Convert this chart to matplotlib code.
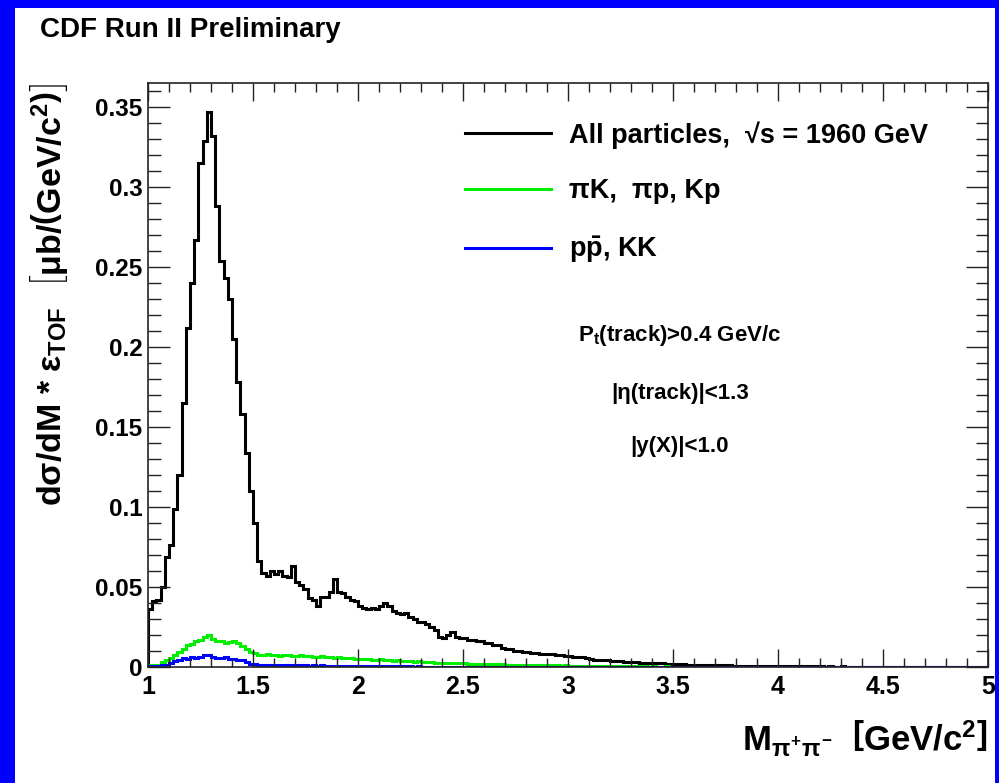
# CDF Run II exclusive pi+pi- mass spectrum, redrawn with matplotlib

import numpy as np
import matplotlib
matplotlib.use('Agg')
import matplotlib.pyplot as plt
from matplotlib.ticker import MultipleLocator, FuncFormatter
from matplotlib.patches import Rectangle

# Histogram contents, 0.02 GeV/c^2 bins from 1.0 to 5.0

all_particles = [
    0.036, 0.041, 0.042, 0.050, 0.069, 0.076, 0.099, 0.120, 0.165, 0.212,
    0.240, 0.267, 0.315, 0.329, 0.347, 0.332, 0.288, 0.254, 0.243, 0.230,
    0.205, 0.178, 0.158, 0.134, 0.110, 0.090, 0.066, 0.059, 0.057, 0.060,
    0.058, 0.060, 0.057, 0.056, 0.063, 0.053, 0.051, 0.049, 0.043, 0.042,
    0.038, 0.044, 0.044, 0.047, 0.055, 0.047, 0.046, 0.044, 0.042, 0.041,
    0.038, 0.037, 0.036, 0.037, 0.036, 0.038, 0.040, 0.038, 0.035, 0.034,
    0.033, 0.034, 0.031, 0.030, 0.028, 0.028, 0.027, 0.025, 0.023, 0.019,
    0.018, 0.020, 0.022, 0.019, 0.018, 0.018, 0.017, 0.017, 0.016, 0.016,
    0.015, 0.015, 0.014, 0.014, 0.012, 0.011, 0.011, 0.010, 0.0098, 0.0095,
    0.0092, 0.0088, 0.0086, 0.0084, 0.0082, 0.0080, 0.0079, 0.0078, 0.0076, 0.0070,
    0.0066, 0.0064, 0.0062, 0.0060, 0.0056, 0.0048, 0.0046, 0.0045, 0.0044, 0.0042,
    0.0040, 0.0038, 0.0036, 0.0032, 0.0031, 0.0030, 0.0029, 0.0028, 0.0027, 0.0026,
    0.0025, 0.0024, 0.0022, 0.0020, 0.0019, 0.0018, 0.0017, 0.0016, 0.0015, 0.0014,
    0.0013, 0.0014, 0.0012, 0.0012, 0.0011, 0.0012, 0.0010, 0.0010, 0.0011, 0.0009,
    0.0009, 0.0008, 0.0009, 0.0008, 0.0007, 0.0008, 0.0007, 0.0007, 0.0006, 0.0007,
    0.0006, 0.0006, 0.0005, 0.0006, 0.0005, 0.0005, 0.0004, 0.0005, 0.0004, 0.0004,
    0.0004, 0.0003, 0.0004, 0.0003, 0.0003, 0.0004, 0.0003, 0.0002, 0.0003, 0.0002,
    0.0002, 0.0003, 0.0002, 0.0002, 0.0002, 0.0001, 0.0002, 0.0001, 0.0002, 0.0001,
    0.0001, 0.0001, 0.0002, 0.0001, 0.0001, 0.0000, 0.0001, 0.0001, 0.0000, 0.0001,
    0.0000, 0.0001, 0.0000, 0.0000, 0.0001, 0.0000, 0.0000, 0.0001, 0.0000, 0.0000,
]

pik_pip_kp = [
    0.0012, 0.0013, 0.0015, 0.0030, 0.0042, 0.0055, 0.0072, 0.0095, 0.0110, 0.0135,
    0.0145, 0.0165, 0.0170, 0.0190, 0.0200, 0.0175, 0.0160, 0.0165, 0.0150, 0.0158,
    0.0162, 0.0150, 0.0130, 0.0110, 0.0095, 0.0085, 0.0078, 0.0075, 0.0080, 0.0072,
    0.0075, 0.0070, 0.0078, 0.0073, 0.0070, 0.0068, 0.0072, 0.0066, 0.0068, 0.0064,
    0.0062, 0.0066, 0.0060, 0.0063, 0.0058, 0.0060, 0.0057, 0.0055, 0.0058, 0.0050,
    0.0052, 0.0048, 0.0050, 0.0046, 0.0045, 0.0047, 0.0042, 0.0044, 0.0040, 0.0041,
    0.0038, 0.0037, 0.0039, 0.0034, 0.0035, 0.0031, 0.0030, 0.0032, 0.0028, 0.0027,
    0.0026, 0.0027, 0.0024, 0.0025, 0.0022, 0.0023, 0.0021, 0.0020, 0.0021, 0.0019,
    0.0018, 0.0019, 0.0017, 0.0016, 0.0017, 0.0015, 0.0015, 0.0014, 0.0015, 0.0013,
    0.0013, 0.0012, 0.0013, 0.0011, 0.0012, 0.0010, 0.0011, 0.0010, 0.0009, 0.0010,
    0.0009, 0.0008, 0.0009, 0.0008, 0.0007, 0.0008, 0.0007, 0.0006, 0.0007, 0.0006,
    0.0006, 0.0005, 0.0006, 0.0005, 0.0005, 0.0004, 0.0005, 0.0004, 0.0004, 0.0003,
    0.0004, 0.0003, 0.0003, 0.0004, 0.0003, 0.0002, 0.0003, 0.0002, 0.0002, 0.0003,
    0.0002, 0.0002, 0.0001, 0.0002, 0.0002, 0.0001, 0.0001, 0.0002, 0.0001, 0.0001,
    0.0001, 0.0001, 0.0001, 0.0000, 0.0001, 0.0001, 0.0000, 0.0001, 0.0000, 0.0001,
    0.0000, 0.0001, 0.0000, 0.0000, 0.0001, 0.0000, 0.0000, 0.0000, 0.0001, 0.0000,
    0.0000, 0.0000, 0.0000, 0.0001, 0.0000, 0.0000, 0.0000, 0.0000, 0.0000, 0.0000,
    0.0000, 0.0000, 0.0000, 0.0000, 0.0000, 0.0000, 0.0000, 0.0000, 0.0000, 0.0000,
    0.0000, 0.0000, 0.0000, 0.0000, 0.0000, 0.0000, 0.0000, 0.0000, 0.0000, 0.0000,
    0.0000, 0.0000, 0.0000, 0.0000, 0.0000, 0.0000, 0.0000, 0.0000, 0.0000, 0.0000,
]

ppbar_kk = [
    0.0006, 0.0007, 0.0008, 0.0010, 0.0015, 0.0022, 0.0035, 0.0045, 0.0058, 0.0050,
    0.0062, 0.0058, 0.0065, 0.0078, 0.0072, 0.0060, 0.0055, 0.0058, 0.0060, 0.0052,
    0.0048, 0.0042, 0.0045, 0.0030, 0.0020, 0.0018, 0.0014, 0.0015, 0.0013, 0.0014,
    0.0012, 0.0013, 0.0012, 0.0011, 0.0012, 0.0010, 0.0011, 0.0010, 0.0009, 0.0010,
    0.0009, 0.0010, 0.0009, 0.0008, 0.0009, 0.0008, 0.0008, 0.0007, 0.0008, 0.0007,
    0.0007, 0.0006, 0.0007, 0.0006, 0.0006, 0.0005, 0.0006, 0.0005, 0.0005, 0.0004,
    0.0005, 0.0004, 0.0004, 0.0003, 0.0004, 0.0003, 0.0003, 0.0003, 0.0002, 0.0003,
    0.0002, 0.0002, 0.0003, 0.0002, 0.0002, 0.0001, 0.0002, 0.0001, 0.0001, 0.0002,
    0.0001, 0.0001, 0.0001, 0.0000, 0.0001, 0.0001, 0.0000, 0.0001, 0.0000, 0.0000,
    0.0001, 0.0000, 0.0000, 0.0000, 0.0001, 0.0000, 0.0000, 0.0000, 0.0000, 0.0000,
    0.0000, 0.0000, 0.0000, 0.0000, 0.0000, 0.0000, 0.0000, 0.0000, 0.0000, 0.0000,
    0.0000, 0.0000, 0.0000, 0.0000, 0.0000, 0.0000, 0.0000, 0.0000, 0.0000, 0.0000,
    0.0000, 0.0000, 0.0000, 0.0000, 0.0000, 0.0000, 0.0000, 0.0000, 0.0000, 0.0000,
    0.0000, 0.0000, 0.0000, 0.0000, 0.0000, 0.0000, 0.0000, 0.0000, 0.0000, 0.0000,
    0.0000, 0.0000, 0.0000, 0.0000, 0.0000, 0.0000, 0.0000, 0.0000, 0.0000, 0.0000,
    0.0000, 0.0000, 0.0000, 0.0000, 0.0000, 0.0000, 0.0000, 0.0000, 0.0000, 0.0000,
    0.0000, 0.0000, 0.0000, 0.0000, 0.0000, 0.0000, 0.0000, 0.0000, 0.0000, 0.0000,
    0.0000, 0.0000, 0.0000, 0.0000, 0.0000, 0.0000, 0.0000, 0.0000, 0.0000, 0.0000,
    0.0000, 0.0000, 0.0000, 0.0000, 0.0000, 0.0000, 0.0000, 0.0000, 0.0000, 0.0000,
    0.0000, 0.0000, 0.0000, 0.0000, 0.0000, 0.0000, 0.0000, 0.0000, 0.0000, 0.0000,
]

labels = ["All particles,  \u221as = 1960 GeV",
          "\u03c0K,  \u03c0p, Kp",
          r"p$\bar{\mathrm{p}}$, KK"]
colors = ['black', '#00ee00', '#0000ff']

cuts = [r"P$_{\mathrm{t}}$(track)>0.4 GeV/c",
        "|\u03b7(track)|<1.3",
        "|y(X)|<1.0"]

# Fonts: ROOT style bold helvetica

plt.rcParams['font.family'] = ['Liberation Sans', 'DejaVu Sans']
plt.rcParams['font.weight'] = 'bold'
plt.rcParams['axes.labelweight'] = 'bold'
plt.rcParams['mathtext.fontset'] = 'custom'
plt.rcParams['mathtext.rm'] = 'Liberation Sans:bold'
plt.rcParams['mathtext.it'] = 'Liberation Sans:bold'
plt.rcParams['mathtext.bf'] = 'Liberation Sans:bold'
plt.rcParams['mathtext.sf'] = 'Liberation Sans:bold'

edges = np.linspace(1.0, 5.0, len(all_particles) + 1)

fig = plt.figure(figsize=(9.99, 7.83), dpi=100)
fig.patch.set_facecolor('#0000ff')
fig.patches.append(Rectangle((15 / 999, 0), 980 / 999, 1 - 8 / 783,
                             transform=fig.transFigure, facecolor='white',
                             edgecolor='none', zorder=-10))

ax = fig.add_axes([148 / 999, 116 / 783, 840 / 999, 584 / 783])

for values, color, label in zip([all_particles, pik_pip_kp, ppbar_kk], colors, labels):
    ax.stairs(values, edges, color=color, lw=2.2, label=label)

ax.set_xlim(1, 5)
ax.set_ylim(0, 0.365)

# Axis ticks, ROOT style (inside, on all four sides)

ax.xaxis.set_major_locator(MultipleLocator(0.5))
ax.xaxis.set_minor_locator(MultipleLocator(0.1))
ax.yaxis.set_major_locator(MultipleLocator(0.05))
ax.yaxis.set_minor_locator(MultipleLocator(0.01))
fmt = FuncFormatter(lambda v, p: '%g' % round(v, 3))
ax.xaxis.set_major_formatter(fmt)
ax.yaxis.set_major_formatter(fmt)

ax.tick_params(axis='both', which='both', direction='in', top=True, right=True,
               width=1.0, color='#222222')
ax.tick_params(axis='x', which='major', length=13, labelsize=18, pad=6)
ax.tick_params(axis='x', which='minor', length=6.5)
ax.tick_params(axis='y', which='major', length=16, labelsize=17.5, pad=4)
ax.tick_params(axis='y', which='minor', length=9)
for s in ax.spines.values():
    s.set_linewidth(1.2)
    s.set_color('#222222')

ax.set_xlabel(r"M$_{\pi^{+}\pi^{-}}$  $\left[\mathrm{GeV/c}^{2}\right]$",
              fontsize=25, loc='right', labelpad=14)
ax.set_ylabel(r"d$\sigma$/dM * $\epsilon_{\mathrm{TOF}}$  $\left[\mu\mathrm{b}/\left(\mathrm{GeV/c}^{2}\right)\right]$",
              fontsize=24.5, loc='top', labelpad=18)

ax.legend(handles=[plt.Line2D([], [], color=c, lw=2.2) for c in colors],
          labels=labels, loc='upper left', bbox_to_anchor=(0.377, 0.935),
          frameon=False, fontsize=19.5, handlelength=3.2, handletextpad=0.67,
          labelspacing=1.1, borderpad=0, borderaxespad=0)

for text, ypos in zip(cuts, [0.567, 0.469, 0.377]):
    ax.text(0.633, ypos, text, transform=ax.transAxes, ha='center', va='center',
            fontsize=16)

fig.text(40 / 999, 1 - 30 / 783, "CDF Run II Preliminary", fontsize=20,
         ha='left', va='center')

plt.savefig('out.png', dpi=100, facecolor=fig.get_facecolor())
